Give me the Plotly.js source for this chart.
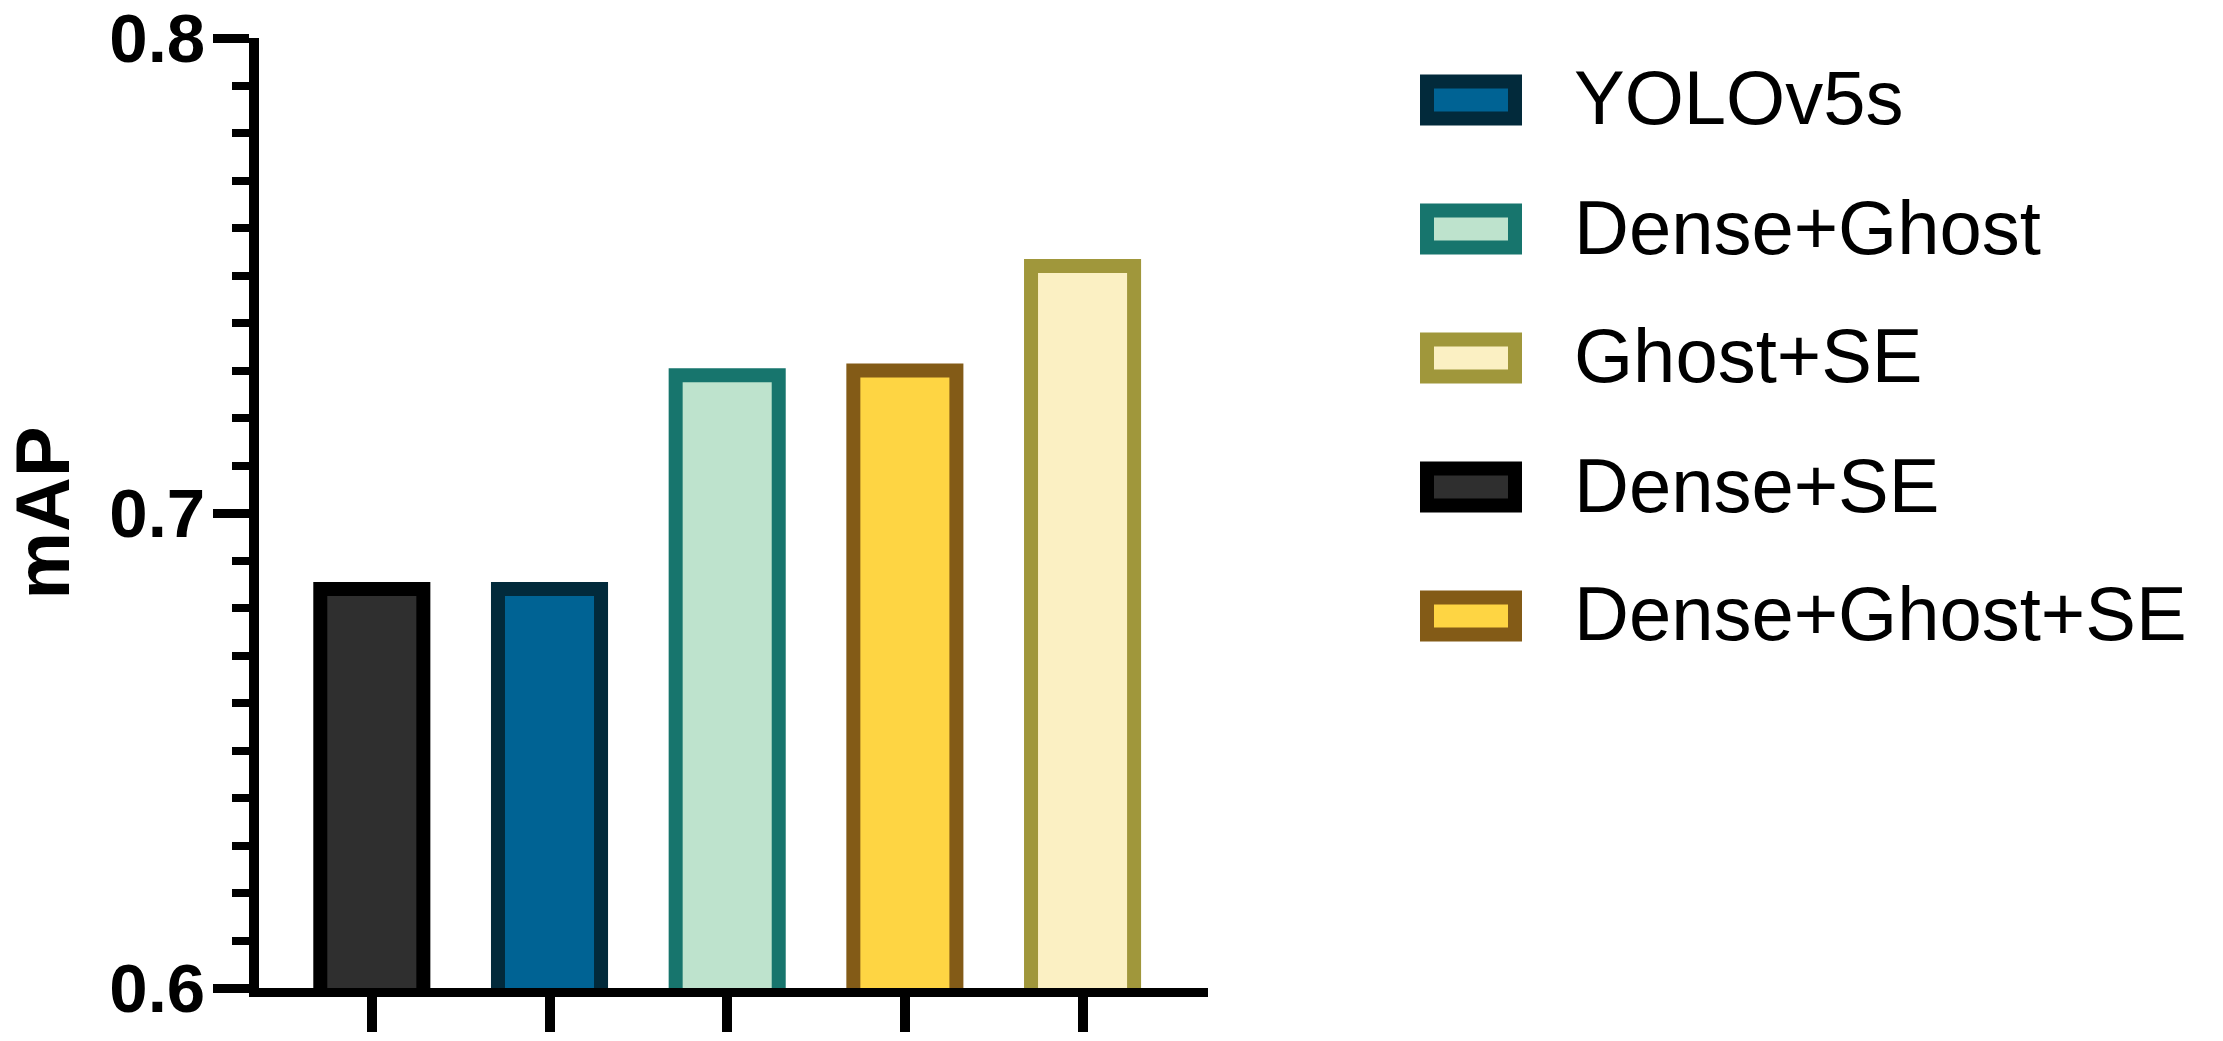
<!DOCTYPE html>
<html>
<head>
<meta charset="utf-8">
<script src="https://cdn.plot.ly/plotly-3.0.1.min.js"></script>
<style>
  html, body { margin: 0; padding: 0; background: #ffffff; }
  #chart { width: 2223px; height: 1041px; }
</style>
</head>
<body>
<div id="chart"></div>
<script>
// ---- data ----
const categories = ['Dense+SE', 'YOLOv5s', 'Dense+Ghost', 'Dense+Ghost+SE', 'Ghost+SE'];
const mapValues = [0.684, 0.684, 0.729, 0.730, 0.752];
const fillColors = ['#2f2f2f', '#006394', '#bee3cd', '#fed543', '#fbf0c3'];
const lineColors = ['#000000', '#022a3b', '#17756d', '#835b17', '#a0973b'];
const legendOrder = ['YOLOv5s', 'Dense+Ghost', 'Ghost+SE', 'Dense+SE', 'Dense+Ghost+SE'];
const yTickVals = [0.6, 0.7, 0.8];
const yTickText = ['0.6', '0.7', '0.8'];
const yTitle = 'mAP';

// ---- layout geometry (pixels) ----
const W = 2223, H = 1041;
const L = 259, R = 1208, T = 38, B = 988;
const FONT = 'Liberation Sans, Arial, sans-serif';

const px2x = px => (px - L) / (R - L);
const px2y = py => (B - py) / (B - T);

const trace = {
  type: 'bar',
  x: categories,
  y: mapValues,
  width: 0.58,
  marker: {
    color: fillColors,
    line: { color: lineColors, width: 14 }
  },
  hoverinfo: 'x+y',
  showlegend: false
};

// custom legend built from the arrays
const shapes = [];
const annotations = [];
const legTop = 100, legStep = 129;
legendOrder.forEach((name, i) => {
  const k = categories.indexOf(name);
  const cy = legTop + legStep * i;
  shapes.push({
    type: 'rect', xref: 'paper', yref: 'paper',
    x0: px2x(1427), x1: px2x(1515),
    y0: px2y(cy + 18.5), y1: px2y(cy - 18.5),
    fillcolor: fillColors[k],
    line: { color: lineColors[k], width: 14 }
  });
  annotations.push({
    xref: 'paper', yref: 'paper',
    x: px2x(1572), y: px2y(cy - 2),
    xanchor: 'left', yanchor: 'middle',
    text: name, showarrow: false,
    font: { family: FONT, size: 76, color: '#000000' }
  });
});

const layout = {
  width: W, height: H,
  margin: { l: L, r: W - R, t: T, b: H - B, pad: 0 },
  paper_bgcolor: '#ffffff',
  plot_bgcolor: '#ffffff',
  showlegend: false,
  font: { family: FONT, color: '#000000' },
  xaxis: {
    type: 'category',
    range: [-0.635, 4.706],
    showgrid: false, zeroline: false,
    showline: true, linecolor: '#000000', linewidth: 9,
    ticks: 'outside', ticklen: 35, tickwidth: 10, tickcolor: '#000000',
    showticklabels: false,
    fixedrange: true
  },
  yaxis: {
    range: [0.6, 0.8],
    showgrid: false, zeroline: false,
    showline: true, linecolor: '#000000', linewidth: 10,
    ticks: 'outside', ticklen: 36, tickwidth: 9, tickcolor: '#000000',
    tickvals: yTickVals, ticktext: yTickText,
    tickfont: { family: FONT, size: 69, color: '#000000', weight: 'bold' },
    ticklabelstandoff: -6,
    ticklabeloverflow: 'allow',
    minor: { dtick: 0.01, ticks: 'outside', ticklen: 17, tickwidth: 8, tickcolor: '#000000', showgrid: false },
    title: { text: yTitle, font: { family: FONT, size: 76, color: '#000000', weight: 'bold' }, standoff: 36 },
    fixedrange: true
  },
  shapes: shapes,
  annotations: annotations,
  bargap: 0.42
};

Plotly.newPlot('chart', [trace], layout, { displayModeBar: false, staticPlot: true });
</script>
</body>
</html>
